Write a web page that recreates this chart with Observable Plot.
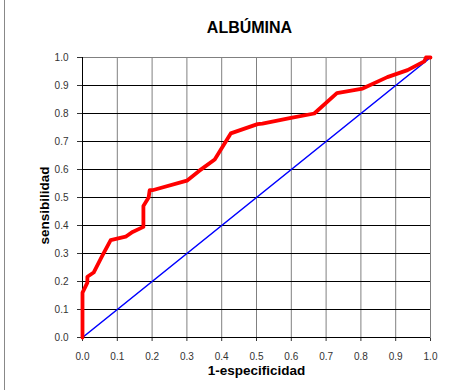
<!DOCTYPE html>
<html>
<head>
<meta charset="utf-8">
<script src="https://cdn.jsdelivr.net/npm/d3@7"></script>
<script src="https://cdn.jsdelivr.net/npm/@observablehq/plot@0.6"></script>
<style>
  html, body { margin: 0; padding: 0; background: #fff; }
  #chart { width: 465px; height: 390px; position: relative; }
  #chart::before { content: ""; position: absolute; left: 4px; top: 0; bottom: 0; width: 1px; background: #888; }
</style>
</head>
<body>
<div id="chart"></div>
<script>
const title = "ALBÚMINA";
const xLabel = "1-especificidad";
const yLabel = "sensibilidad";
const ticks = [0, 0.1, 0.2, 0.3, 0.4, 0.5, 0.6, 0.7, 0.8, 0.9, 1.0];

// ROC curve (red)
const fpr = [0, 0, 0.014, 0.014, 0.032, 0.057, 0.081, 0.124, 0.144, 0.175, 0.175, 0.19, 0.193, 0.201, 0.30, 0.335, 0.38, 0.426, 0.503, 0.517, 0.599, 0.666, 0.731, 0.805, 0.876, 0.934, 0.982, 0.987, 1.0];
const tpr = [0, 0.16, 0.196, 0.217, 0.232, 0.292, 0.348, 0.36, 0.377, 0.395, 0.47, 0.5, 0.526, 0.526, 0.56, 0.595, 0.636, 0.729, 0.762, 0.764, 0.784, 0.80, 0.873, 0.889, 0.93, 0.955, 0.986, 1.0, 1.0];
// Reference diagonal (blue)
const diagX = [0, 1];
const diagY = [0, 1];

const roc = fpr.map((x, i) => ({x, y: tpr[i]}));
const diag = diagX.map((x, i) => ({x, y: diagY[i]}));

const font = "Arial, 'Liberation Sans', sans-serif";

const chart = Plot.plot({
  width: 465,
  height: 390,
  marginLeft: 82,
  marginRight: 35,
  marginTop: 57,
  marginBottom: 53,
  style: {fontFamily: font, fontSize: "10px", color: "#333", background: "#fff"},
  x: {domain: [0, 1], ticks: ticks, tickFormat: d3.format(".1f"), tickSize: 4, tickPadding: 11, label: null},
  y: {domain: [0, 1], ticks: ticks, tickFormat: d3.format(".1f"), tickSize: 5, tickPadding: 9, label: null},
  marks: [
    Plot.gridX(ticks, {stroke: "#808080", strokeOpacity: 1, strokeWidth: 1}),
    Plot.gridY(ticks, {stroke: "#000", strokeOpacity: 1, strokeWidth: 1}),
    Plot.frame({stroke: "#808080"}),
    Plot.ruleX([0], {stroke: "#000"}),
    Plot.ruleY([0], {stroke: "#000"}),
    Plot.line(diag, {x: "x", y: "y", stroke: "#0000ff", strokeWidth: 1.6}),
    Plot.line(roc, {x: "x", y: "y", stroke: "#ff0000", strokeWidth: 3.8, strokeLinejoin: "round"}),
    Plot.text([title], {frameAnchor: "top", lineAnchor: "middle", dy: -30, dx: -7, fontSize: 16, fontWeight: "bold", fill: "#000"}),
    Plot.text([xLabel], {frameAnchor: "bottom", lineAnchor: "middle", dy: 33, fontSize: 13.5, fontWeight: "bold", fill: "#000"}),
    Plot.text([yLabel], {frameAnchor: "left", textAnchor: "middle", lineAnchor: "middle", rotate: -90, dx: -38, dy: 8, fontSize: 13.5, fontWeight: "bold", fill: "#000"})
  ]
});

document.getElementById("chart").appendChild(chart);
</script>
</body>
</html>
